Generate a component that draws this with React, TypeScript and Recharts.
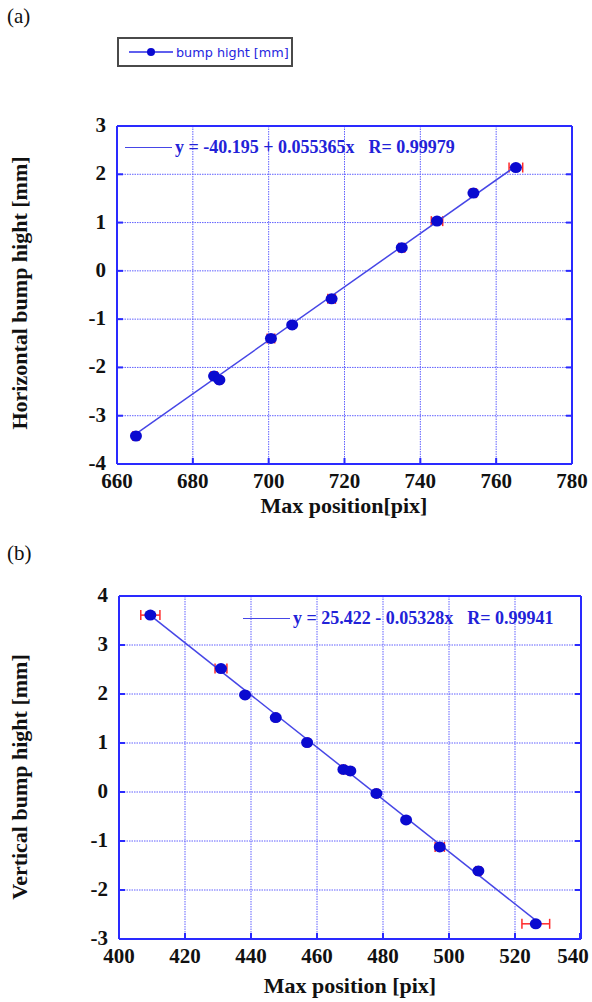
import React from "react";
import {
  ScatterChart,
  Scatter,
  XAxis,
  YAxis,
  CartesianGrid,
  ErrorBar,
} from "recharts";

// (a) horizontal bump
const hPos = [665.0, 685.6, 687.0, 700.6, 706.2, 716.6, 735.1, 744.4, 754.0, 765.2];
const hBump = [-3.42, -2.18, -2.26, -1.4, -1.12, -0.58, 0.48, 1.03, 1.61, 2.14];
const hErr = [0.8, 0.8, 0.6, 1.0, 0.5, 1.0, 0.8, 1.5, 0.8, 1.8];
const hFit = { a: -40.195, b: 0.055365, r: "0.99979" };
const hXTicks = [660, 680, 700, 720, 740, 760, 780];
const hYTicks = [-4, -3, -2, -1, 0, 1, 2, 3];

// (b) vertical bump
const vPos = [409.5, 430.9, 438.2, 447.5, 457.0, 468.0, 470.1, 478.0, 487.0, 497.2, 508.9, 526.3];
const vBump = [3.61, 2.52, 1.98, 1.52, 1.01, 0.46, 0.43, -0.03, -0.57, -1.12, -1.61, -2.69];
const vErr = [2.9, 1.8, 0.5, 0.4, 0.5, 0.6, 0.6, 0.5, 0.4, 1.4, 0.8, 4.2];
const vFit = { a: 25.422, b: -0.05328, r: "0.99941" };
const vXTicks = [400, 420, 440, 460, 480, 500, 520, 540];
const vYTicks = [-3, -2, -1, 0, 1, 2, 3, 4];

const FRAME = "#2a2aff";
const GRID = "#6060ff";
const DOT = "#0a0ad0";
const FITLINE = "#4646e6";
const ERR = "#ff2a2a";
const SERIF = "'Liberation Serif', 'Times New Roman', serif";

const toRows = (xs: number[], ys: number[], es: number[]) =>
  xs.map((x, i) => ({ x, y: ys[i], ex: es[i] }));

const fitRows = (xs: number[], fit: { a: number; b: number }) => {
  const lo = Math.min(...xs);
  const hi = Math.max(...xs);
  return [
    { x: lo, y: fit.a + fit.b * lo },
    { x: hi, y: fit.a + fit.b * hi },
  ];
};

const BottomTick = ({ x, y, payload }: any) => (
  <g>
    <line x1={x} x2={x} y1={y} y2={y - 6} stroke={FRAME} strokeWidth={2} />
    {/* keep the last label inside the page */}
    <text x={Math.min(x, 573)} y={y + 24} textAnchor="middle" fontSize={21} fontWeight="bold" fontFamily={SERIF} fill="#111">
      {payload.value}
    </text>
  </g>
);

const LeftTick = ({ x, y, payload }: any) => (
  <g>
    <line x1={x} x2={x + 6} y1={y} y2={y} stroke={FRAME} strokeWidth={2} />
    <text x={x - 11} y={y + 6} textAnchor="end" fontSize={21} fontWeight="bold" fontFamily={SERIF} fill="#111">
      {payload.value}
    </text>
  </g>
);

const TopTick = ({ x, y }: any) => (
  <line x1={x} x2={x} y1={y} y2={y + 6} stroke={FRAME} strokeWidth={2} />
);

const RightTick = ({ x, y }: any) => (
  <line x1={x} x2={x - 6} y1={y} y2={y} stroke={FRAME} strokeWidth={2} />
);

const Dot = ({ cx, cy }: any) => <ellipse cx={cx} cy={cy} rx={6} ry={5.5} fill={DOT} />;
const NoDot = () => <g />;

type PanelProps = {
  rows: { x: number; y: number; ex: number }[];
  fit: { x: number; y: number }[];
  xTicks: number[];
  yTicks: number[];
  width: number;
  height: number;
  margin: { top: number; right: number; bottom: number; left: number };
};

const Panel = ({ rows, fit, xTicks, yTicks, width, height, margin }: PanelProps) => {
  const xDom: [number, number] = [xTicks[0], xTicks[xTicks.length - 1]];
  const yDom: [number, number] = [yTicks[0], yTicks[yTicks.length - 1]];
  const line = { stroke: FRAME, strokeWidth: 2 };
  return (
    <ScatterChart width={width} height={height} margin={margin}>
      <CartesianGrid stroke={GRID} strokeDasharray="1.5 1" strokeWidth={1} />
      <XAxis type="number" dataKey="x" domain={xDom} ticks={xTicks} allowDataOverflow
        height={30} tickSize={0} tickMargin={0} axisLine={line} tickLine={false} tick={BottomTick} />
      <YAxis type="number" dataKey="y" domain={yDom} ticks={yTicks} allowDataOverflow
        width={60} tickSize={0} tickMargin={0} axisLine={line} tickLine={false} tick={LeftTick} />
      <XAxis xAxisId="top" orientation="top" type="number" domain={xDom} ticks={xTicks} allowDataOverflow
        height={1} tickSize={0} tickMargin={0} axisLine={line} tickLine={false} tick={TopTick} />
      <YAxis yAxisId="right" orientation="right" type="number" domain={yDom} ticks={yTicks} allowDataOverflow
        width={1} tickSize={0} tickMargin={0} axisLine={line} tickLine={false} tick={RightTick} />
      <Scatter data={fit} line={{ stroke: FITLINE, strokeWidth: 1.5 }} shape={NoDot} isAnimationActive={false} />
      <Scatter data={rows} shape={Dot} isAnimationActive={false}>
        <ErrorBar dataKey="ex" direction="x" width={5} stroke={ERR} strokeWidth={1.5} />
      </Scatter>
    </ScatterChart>
  );
};

const FitNote = ({ left, top, eq, r }: { left: number; top: number; eq: string; r: string }) => (
  <div style={{ position: "absolute", left, top, height: 20, display: "flex", alignItems: "center",
    fontFamily: SERIF, fontWeight: "bold", fontSize: 18, color: "#2222d8", whiteSpace: "pre" }}>
    <div style={{ width: 47, height: 0, borderTop: `1.5px solid ${FITLINE}`, marginRight: 3 }} />
    <span>{eq}</span>
    <span style={{ marginLeft: 14 }}>R= {r}</span>
  </div>
);

const YTitle = ({ cx, cy, text }: { cx: number; cy: number; text: string }) => (
  <div style={{ position: "absolute", left: cx - 200, top: cy - 12, width: 400, height: 24, lineHeight: "24px",
    textAlign: "center", transform: "rotate(-90deg)", fontFamily: SERIF, fontWeight: "bold", fontSize: 22, color: "#111" }}>
    {text}
  </div>
);

const XTitle = ({ cx, top, text }: { cx: number; top: number; text: string }) => (
  <div style={{ position: "absolute", left: cx - 200, top, width: 400, textAlign: "center",
    fontFamily: SERIF, fontWeight: "bold", fontSize: 22, color: "#111" }}>
    {text}
  </div>
);

export default function App() {
  const fmt = (n: number) => n.toFixed(3);
  return (
    <div style={{ position: "absolute", left: 0, top: 0, width: 592, height: 1002, background: "#fff", overflow: "hidden" }}>
      <div style={{ position: "absolute", left: 7, top: 4, fontFamily: SERIF, fontSize: 21, color: "#111" }}>(a)</div>

      {/* legend box */}
      <div style={{ position: "absolute", left: 117, top: 37, width: 172, height: 26, border: "2px solid #4a4a4a",
        display: "flex", alignItems: "center" }}>
        <svg width={48} height={12} style={{ marginLeft: 8 }}>
          <line x1={2} x2={46} y1={6} y2={6} stroke="#2a2ae8" strokeWidth={1.5} />
          <circle cx={24} cy={6} r={4} fill={DOT} />
        </svg>
        <span style={{ fontFamily: "'DejaVu Sans', sans-serif", fontSize: 12.8, color: "#2525e0", marginLeft: 1 }}>
          bump hight [mm]
        </span>
      </div>

      <div style={{ position: "absolute", left: 0, top: 0 }}>
        <Panel rows={toRows(hPos, hBump, hErr)} fit={fitRows(hPos, hFit)} xTicks={hXTicks} yTicks={hYTicks}
          width={592} height={530} margin={{ top: 125, right: 19, bottom: 36, left: 57 }} />
      </div>
      <FitNote left={125} top={137} eq={`y = ${fmt(hFit.a)} + ${hFit.b}x`} r={hFit.r} />
      <YTitle cx={20} cy={293} text="Horizontal bump hight [mm]" />
      <XTitle cx={344} top={493} text="Max position[pix]" />

      <div style={{ position: "absolute", left: 7, top: 541, fontFamily: SERIF, fontSize: 21, color: "#111" }}>(b)</div>
      <div style={{ position: "absolute", left: 0, top: 540 }}>
        <Panel rows={toRows(vPos, vBump, vErr)} fit={fitRows(vPos, vFit)} xTicks={vXTicks} yTicks={vYTicks}
          width={592} height={462} margin={{ top: 55, right: 10, bottom: 33, left: 59 }} />
      </div>
      <FitNote left={243} top={608} eq={`y = ${fmt(vFit.a)} - ${Math.abs(vFit.b)}x`} r={vFit.r} />
      <YTitle cx={20} cy={777} text="Vertical bump hight [mm]" />
      <XTitle cx={350} top={973} text="Max position [pix]" />
    </div>
  );
}
